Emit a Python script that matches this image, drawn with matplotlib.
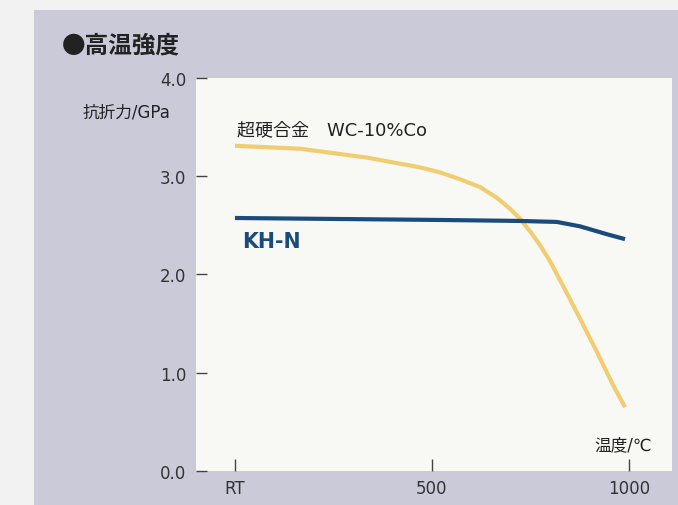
import matplotlib
matplotlib.use("Agg")
from matplotlib import pyplot as plt
from matplotlib.patches import Rectangle

plt.rcParams['font.family'] = ['DejaVu Sans', 'Noto Sans CJK JP']
CJK = ['Noto Sans CJK JP', 'DejaVu Sans']

# temperature (RT plotted at 0) and bending strength in GPa
wc_temp = [0, 165, 335, 470, 520, 571, 622, 665, 698, 723, 749, 774, 799, 832, 876, 919, 959, 990]
wc_strength = [3.31, 3.28, 3.19, 3.09, 3.04, 2.97, 2.89, 2.78, 2.67, 2.57, 2.44, 2.30, 2.14,
               1.89, 1.55, 1.21, 0.88, 0.65]

khn_temp = [0, 520, 723, 817, 876, 944, 990]
khn_strength = [2.575, 2.555, 2.545, 2.535, 2.49, 2.41, 2.36]

x_ticks = [0, 500, 1000]
x_labels = ["RT", "500", "1000"]
y_ticks = [0, 1, 2, 3, 4]
y_labels = ["0.0", "1.0", "2.0", "3.0", "4.0"]

fig = plt.figure(figsize=(6.78, 5.06), dpi=100)
fig.patch.set_facecolor("#f2f2f2")
panel = Rectangle((0.05, 0), 0.95, 0.978, transform=fig.transFigure,
                  facecolor="#cacad8", edgecolor="none", zorder=-10)
fig.add_artist(panel)

ax = fig.add_axes([0.289, 0.0672, 0.702, 0.7767])
ax.set_zorder(1)
ax.set_facecolor("#f8f9f5")
for s in ax.spines.values():
    s.set_visible(False)

ax.plot(wc_temp, wc_strength, color="#f1cd72", lw=3, solid_capstyle="butt", solid_joinstyle="round")
ax.plot(khn_temp, khn_strength, color="#1b4b7c", lw=3, solid_capstyle="butt", solid_joinstyle="round")

ax.set_xlim(-99, 1109)
ax.set_ylim(0, 4)

ax.set_yticks(y_ticks)
ax.set_yticklabels(y_labels, fontsize=12, color="#333333")
ax.tick_params(axis="y", direction="in", length=8, width=1, color="#444444", pad=7)
ax.set_xticks(x_ticks)
ax.set_xticklabels(x_labels, fontsize=12, color="#333333")
ax.tick_params(axis="x", direction="in", length=9, width=1, color="#444444", pad=6)

fig.text(0.0914, 0.911, "●高温強度", fontsize=17, fontweight="bold", color="#222222",
         va="center", family=CJK)
fig.text(0.122, 0.777, "抗折力/GPa", fontsize=12, color="#222222", va="center")

ax.text(5, 3.48, "超硬合金　WC-10%Co", fontsize=13, color="#222222", va="center")
ax.text(18, 2.34, "KH-N", fontsize=14.8, fontweight="bold", color="#1b4b7c", va="center")
ax.text(1058, 0.275, "温度/℃", fontsize=12, color="#222222", va="center", ha="right")

fig.savefig("out.png", dpi=100, facecolor=fig.get_facecolor())
